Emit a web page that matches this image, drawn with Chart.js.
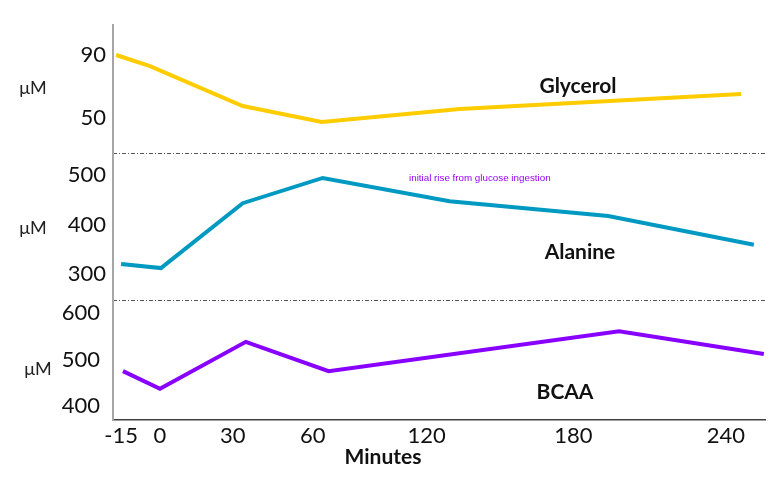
<!DOCTYPE html>
<html>
<head>
<meta charset="utf-8">
<script src="https://cdn.jsdelivr.net/npm/chart.js@4.4.1/dist/chart.umd.min.js"></script>
<style>
  body { margin: 0; background: #fff; }
  #wrap { position: relative; width: 771px; height: 492px; overflow: hidden; font-family: Lato, sans-serif; }
  #wrap canvas { position: absolute; left: 0; }
  .lbl { position: absolute; white-space: nowrap; transform: translate(-50%, -50%); line-height: 1; color: #111; }
  .unit { font-size: 18px; color: #222; }
  .name { font-size: 21px; font-weight: bold; }
  .note { font-family: "Liberation Sans", Arial, sans-serif; font-size: 9.8px; color: #9900ff; transform: translate(0, -50%); }
</style>
</head>
<body>
<div id="wrap">
  <canvas id="gly" width="771" height="183" style="top:0"></canvas>
  <canvas id="ala" width="771" height="207" style="top:123px"></canvas>
  <canvas id="bcaa" width="771" height="222" style="top:270px"></canvas>

  <div class="lbl unit" style="left:33px;top:87px">μM</div>
  <div class="lbl unit" style="left:33px;top:227px">μM</div>
  <div class="lbl unit" style="left:38px;top:368px">μM</div>
  <div class="lbl name" style="left:578px;top:84px">Glycerol</div>
  <div class="lbl name" style="left:580px;top:250px">Alanine</div>
  <div class="lbl name" style="left:565px;top:390px">BCAA</div>
  <div class="lbl name" style="left:383px;top:455px">Minutes</div>
  <div class="lbl note" style="left:409px;top:178px">initial rise from glucose ingestion</div>
</div>
<script>
// x axis (minutes) - the labels sit unevenly on the original, positions
const X_MIN = -18.4;
const X_MAX = 256.5;
const xTickAt = [-15, 1.4, 32.1, 65.8, 113.8, 175.7, 240];
const xTickLabels = ["-15", "0", "30", "60", "120", "180", "240"];

// glycerol (µM)
const glyMinutes = [-17.1, -2.8, 36.3, 69.6, 127.7, 195.0, 246.4];
const glyValues = [90, 83, 57.6, 47.5, 55.7, 61.1, 65.2];
const glyTicks = [50, 90];

// alanine (µM)
const alaMinutes = [-15.0, 1.8, 36.3, 70.0, 123.5, 190.4, 251.8];
const alaValues = [320, 312, 443, 494, 447, 417, 359];
const alaTicks = [300, 400, 500];

// branched-chain amino acids (µM)
const bcaaMinutes = [-14.2, 1.4, 37.6, 72.5, 195.0, 256.0];
const bcaaValues = [475, 437, 538, 475, 561, 512];
const bcaaTicks = [400, 500, 600];

const COLORS = { gly: "#FFCC00", ala: "#0099C2", bcaa: "#8800FF" };

const sepLine = {
  id: "sepLine",
  afterDraw(chart, args, opts) {
    if (!opts.show) return;
    const { ctx, chartArea: a } = chart;
    ctx.save();
    ctx.setLineDash([4, 2, 1, 2]);
    ctx.strokeStyle = "#555";
    ctx.lineWidth = 1;
    ctx.beginPath();
    ctx.moveTo(a.left, Math.round(a.bottom) + 0.5);
    ctx.lineTo(a.right, Math.round(a.bottom) + 0.5);
    ctx.stroke();
    ctx.restore();
  },
};

function toPoints(xs, ys) {
  return xs.map((x, i) => ({ x, y: ys[i] }));
}

// tick labels push the chart area in by about half a label + padding,
// so every panel keeps 30px of layout padding and the canvases overlap
function makePanel(id, xs, ys, color, yMin, yMax, yTicks, tickPad, padding, withX) {
  return new Chart(document.getElementById(id), {
    type: "line",
    data: {
      datasets: [{
        data: toPoints(xs, ys),
        borderColor: color,
        borderWidth: 4,
        pointRadius: 0,
        tension: 0,
        fill: false,
      }],
    },
    plugins: [sepLine],
    options: {
      responsive: false,
      maintainAspectRatio: false,
      animation: false,
      layout: { padding },
      plugins: {
        legend: { display: false },
        tooltip: { enabled: false },
        sepLine: { show: !withX },
      },
      scales: {
        x: {
          type: "linear",
          min: X_MIN,
          max: X_MAX,
          display: withX,
          grid: { display: false, drawTicks: false },
          border: { color: "#404040", width: 1.5 },
          afterBuildTicks: (s) => { s.ticks = xTickAt.map((v) => ({ value: v })); },
          afterFit: (s) => { s.height = withX ? 72 : 0; },
          ticks: {
            padding: 3,
            autoSkip: false,
            maxRotation: 0,
            color: "#111",
            font: { family: "Lato", size: 22 },
            callback: (v, i) => xTickLabels[i],
          },
        },
        y: {
          min: yMin,
          max: yMax,
          grid: { display: false, drawTicks: false },
          border: { color: "#a6a6a6", width: 2 },
          afterBuildTicks: (s) => { s.ticks = yTicks.map((v) => ({ value: v })); },
          afterFit: (s) => { s.width = 113; },
          ticks: {
            padding: tickPad,
            color: "#111",
            font: { family: "Lato", size: 22 },
          },
        },
      },
    },
  });
}

makePanel("gly", glyMinutes, glyValues, COLORS.gly, 27.8, 109.05, glyTicks, 7,
  { top: 25, bottom: 30, left: 0, right: 6 }, false);
makePanel("ala", alaMinutes, alaValues, COLORS.ala, 247.5, 544.4, alaTicks, 7,
  { top: 30, bottom: 30, left: 0, right: 6 }, false);
makePanel("bcaa", bcaaMinutes, bcaaValues, COLORS.bcaa, 369.9, 628, bcaaTicks, 13,
  { top: 30, bottom: 0, left: 0, right: 6 }, true);
</script>
</body>
</html>
